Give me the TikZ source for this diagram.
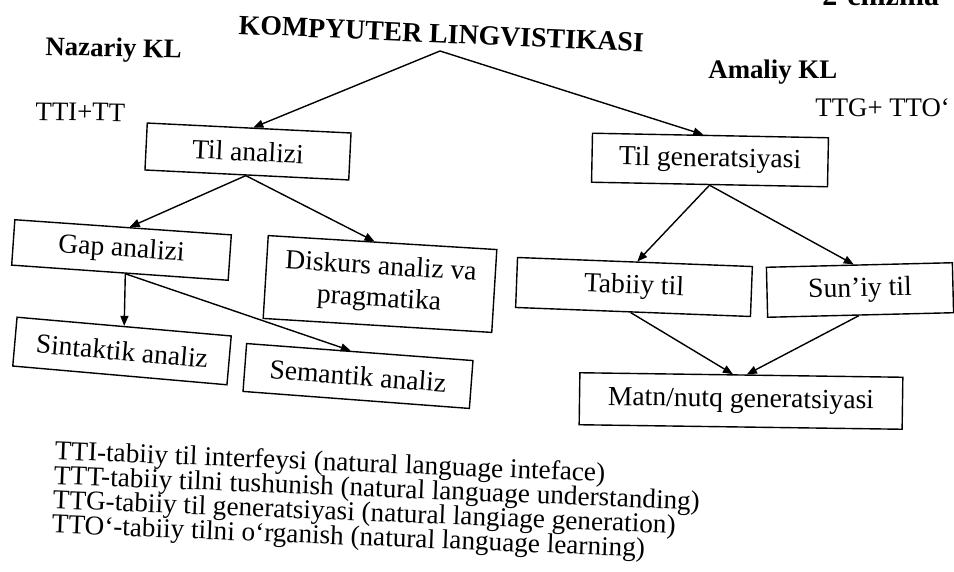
\documentclass[tikz,border=0pt]{standalone}
\usepackage{fontspec}
\setmainfont{Liberation Serif}
\usetikzlibrary{arrows.meta,calc}

\newcommand{\boxfont}{\fontsize{13.8pt}{16pt}\selectfont}
\newcommand{\headfont}{\fontsize{13.4pt}{15pt}\selectfont\bfseries}
\newcommand{\notefont}{\fontsize{13.4pt}{16pt}\selectfont}
\newcommand{\legendfont}{\fontsize{13.6pt}{12.25pt}\selectfont\lineskiplimit=-20pt\relax}

\tikzset{
  box/.style={draw, line width=0.7pt, inner sep=0pt, align=center, font=\boxfont},
  link/.style={line width=0.7pt, -{Triangle[length=5pt,width=4pt]}},
  head/.style={anchor=base west, inner sep=0pt, font=\headfont},
  note/.style={anchor=base west, inner sep=0pt, font=\notefont},
}

\begin{document}
\begin{tikzpicture}[x=0.5pt,y=-0.5pt]
\useasboundingbox (0,0) rectangle (954,572);

% headings
\node[head, font=\fontsize{15pt}{17pt}\selectfont\bfseries] (chizma) at (822,6) {2-chizma};
\node[head, font=\fontsize{13.9pt}{16pt}\selectfont\bfseries, rotate=-2.5] (title) at (238,34) {KOMPYUTER LINGVISTIKASI};
\node[head, rotate=-1.3] (nazariy) at (45,55) {Nazariy KL};
\node[head] (amaliy) at (708,79) {Amaliy KL};
\node[note, rotate=-1] (tti) at (35,120) {TTI+TT};
\node[note] (ttg) at (815,117) {TTG+ TTO‘};

% boxes
\node[box, minimum width=102pt,   minimum height=23.5pt,  rotate=-2.8] (tilan)  at (248,151.5) {Til analizi};
\node[box, minimum width=118pt,   minimum height=24.5pt,  rotate=-1.1] (tilgen) at (710,160)   {Til generatsiyasi};
\node[box, minimum width=108.5pt, minimum height=22.75pt, rotate=-4]   (gap)    at (121.5,250) {Gap analizi};
\node[box, minimum width=114.5pt, minimum height=41.5pt,  rotate=-3.5] (disk)   at (380,284)   {Diskurs analiz va\\pragmatika};
\node[box, minimum width=107.5pt, minimum height=24.5pt,  rotate=-5]   (sint)   at (122,351)   {Sintaktik analiz};
\node[box, minimum width=113.5pt, minimum height=24pt,    rotate=-4.3] (sem)    at (358,376)   {Semantik analiz};
\node[box, minimum width=117.5pt, minimum height=25pt,    rotate=-2.2] (tab)    at (634,287)   {Tabiiy til};
\node[box, minimum width=93pt,    minimum height=25pt,    rotate=1.4]  (sun)    at (860,290)   {Sun’iy til};
\node[box, minimum width=161.5pt, minimum height=26pt,    rotate=-0.8] (matn)   at (741,401)   {Matn/nutq generatsiyasi};

% connectors
\coordinate (apex) at (440,51);
\draw[link] (apex) -- ($(tilan.north west)!0.52!(tilan.north east)$);
\draw[link] (apex) -- ($(tilgen.north west)!0.47!(tilgen.north east)$);

\draw[link] ($(tilan.south west)!0.495!(tilan.south east)$) -- ($(gap.north west)!0.53!(gap.north east)$);
\draw[link] ($(tilan.south west)!0.495!(tilan.south east)$) -- ($(disk.north west)!0.465!(disk.north east)$);

\draw[link] ($(gap.south west)!0.525!(gap.south east)$) -- ($(sint.north west)!0.50!(sint.north east)$);
\draw[link] ($(gap.south west)!0.525!(gap.south east)$) -- ($(sem.north west)!0.46!(sem.north east)$);

\draw[link] ($(tilgen.south west)!0.5!(tilgen.south east)$) -- ($(tab.north west)!0.51!(tab.north east)$);
\draw[link] ($(tilgen.south west)!0.5!(tilgen.south east)$) -- ($(sun.north west)!0.47!(sun.north east)$);

\draw[link] ($(tab.south west)!0.49!(tab.south east)$) -- ($(matn.north west)!0.474!(matn.north east)$);
\draw[link] ($(sun.south west)!0.49!(sun.south east)$) -- ($(matn.north west)!0.517!(matn.north east)$);

% legend of abbreviations
\node[anchor=north west, inner sep=0pt, align=left, font=\legendfont, rotate=-2.3] (legend) at (55,440)
  {TTI-tabiiy til interfeysi (natural language inteface)\\
   TTT-tabiiy tilni tushunish (natural language understanding)\\
   TTG-tabiiy til generatsiyasi (natural langiage generation)\\
   TTO‘-tabiiy tilni o‘rganish (natural language learning)};
\end{tikzpicture}
\end{document}
